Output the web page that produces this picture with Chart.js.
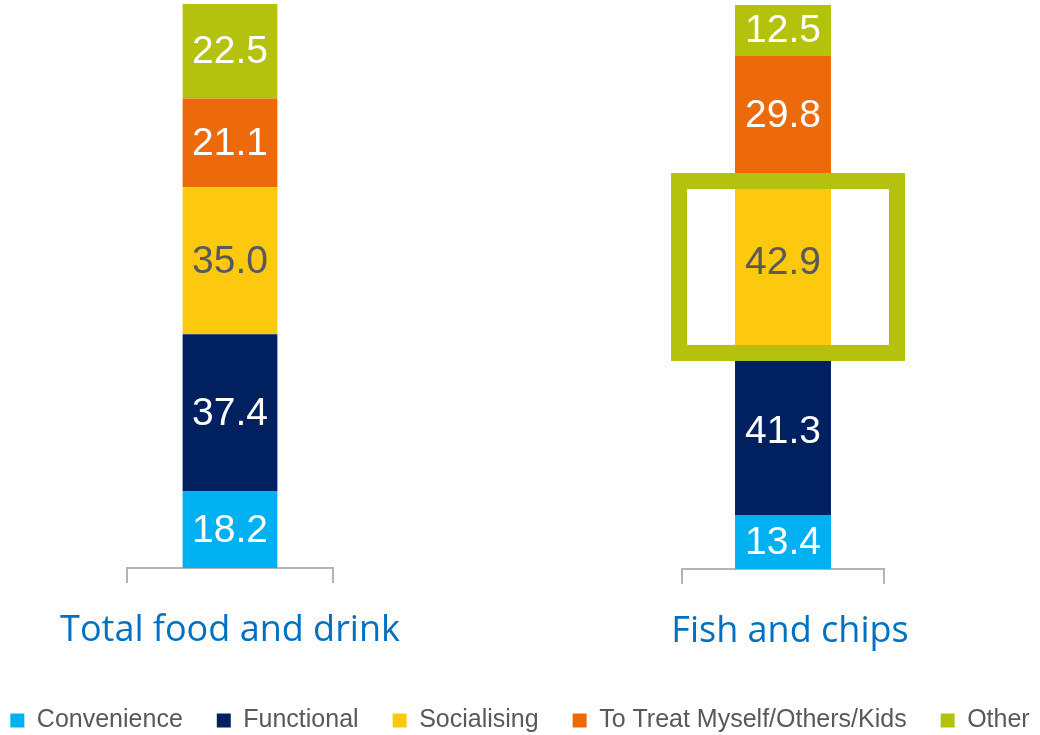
<!DOCTYPE html>
<html>
<head>
<meta charset="utf-8">
<script src="https://cdn.jsdelivr.net/npm/chart.js@4.4.0/dist/chart.umd.min.js"></script>
<style>
  body { margin: 0; background: #fff; }
  #wrap { position: relative; width: 1040px; height: 735px; }
  #wrap canvas { position: absolute; left: 0; top: 0; }
</style>
</head>
<body>
<div id="wrap">
  <canvas id="totalChart" width="1040" height="735"></canvas>
  <canvas id="fishChart" width="1040" height="735"></canvas>
</div>
<script>
// reasons for eating out, share of occasions (%)
const reasons = ["Convenience", "Functional", "Socialising", "To Treat Myself/Others/Kids", "Other"];
const totalFoodDrink = [18.2, 37.4, 35.0, 21.1, 22.5];
const fishAndChips = [13.4, 41.3, 42.9, 29.8, 12.5];
const colours = ["#00B0F0", "#002060", "#FDC90E", "#EC6A0A", "#B5C20D"];
const valueColours = ["#ffffff", "#ffffff", "#595959", "#ffffff", "#ffffff"];
const highlighted = "Socialising";

const axisGrey = "#b4b4b4";

// value written in the middle of every segment
const valueLabels = {
  id: "valueLabels",
  afterDatasetsDraw(chart) {
    const ctx = chart.ctx;
    ctx.save();
    ctx.font = "39px 'Liberation Sans', Arial, sans-serif";
    ctx.textAlign = "center";
    ctx.textBaseline = "middle";
    chart.data.datasets.forEach((ds, i) => {
      chart.getDatasetMeta(i).data.forEach((bar, j) => {
        const p = bar.getProps(["x", "y", "base"], true);
        ctx.fillStyle = valueColours[i];
        ctx.fillText(ds.data[j].toFixed(1), p.x, (p.y + p.base) / 2 + 1);
      });
    });
    ctx.restore();
  }
};

// green frame round the socialising segment
const highlightBox = {
  id: "highlightBox",
  afterDatasetsDraw(chart) {
    const bar = chart.getDatasetMeta(reasons.indexOf(highlighted)).data[0];
    const p = bar.getProps(["x", "y", "base", "width"], true);
    const ctx = chart.ctx;
    ctx.save();
    ctx.strokeStyle = colours[4];
    ctx.lineWidth = 16;
    ctx.strokeRect(p.x - p.width / 2 - 56, p.y + 5.5, p.width + 122, p.base - p.y - 1);
    ctx.restore();
  }
};

function stackedBar(id, label, values, o) {
  return new Chart(document.getElementById(id), {
    type: "bar",
    data: {
      labels: [label],
      datasets: reasons.map((r, i) => ({
        label: r,
        data: [values[i]],
        backgroundColor: colours[i],
        borderWidth: 0,
        barPercentage: o.barPct,
        categoryPercentage: 1
      }))
    },
    options: {
      responsive: false,
      animation: false,
      devicePixelRatio: 1,
      layout: { padding: o.padding },
      plugins: {
        tooltip: { enabled: false },
        legend: {
          display: o.legend,
          position: "bottom",
          labels: {
            boxWidth: 14,
            boxHeight: 14,
            padding: 34,
            color: "#595959",
            font: { family: "'Liberation Sans', Arial, sans-serif", size: 25 }
          }
        }
      },
      scales: {
        x: {
          stacked: true,
          offset: true,
          grid: { display: true, offset: true, drawOnChartArea: false, drawTicks: true, tickLength: 15, color: axisGrey, lineWidth: 2 },
          border: { display: true, color: axisGrey, width: 2 },
          ticks: {
            color: "#0070C0",
            font: { family: "'Open Sans', sans-serif", size: 36 },
            padding: 26,
            labelOffset: o.labelOffset,
            maxRotation: 0,
            autoSkip: false
          },
          // wide category names may overhang the plot, keep the plot width fixed
          afterFit: s => {
            s.height = o.axisHeight;
            s.paddingLeft = 0;
            s.paddingRight = 0;
          }
        },
        y: {
          stacked: true,
          min: 0,
          max: values.reduce((a, b) => a + b, 0),
          grid: { display: false },
          border: { display: false },
          ticks: { display: false },
          afterFit: s => { s.width = o.leftWidth; }
        },
        side: {
          position: "right",
          grid: { display: false },
          border: { display: false },
          ticks: { display: false },
          afterFit: s => { s.width = o.rightWidth; }
        }
      }
    },
    plugins: o.plugins
  });
}

stackedBar("totalChart", "Total food and drink", totalFoodDrink, {
  barPct: 0.46,
  legend: true,
  padding: { top: 4, bottom: -8, left: -30, right: -30 },
  leftWidth: 157,
  rightWidth: 737,
  axisHeight: 106,
  labelOffset: 0,
  plugins: [valueLabels]
});

stackedBar("fishChart", "Fish and chips", fishAndChips, {
  barPct: 0.475,
  legend: false,
  padding: { top: 5, bottom: 0, left: 0, right: 0 },
  leftWidth: 682,
  rightWidth: 156,
  axisHeight: 166,
  labelOffset: 7,
  plugins: [highlightBox, valueLabels]
});
</script>
</body>
</html>
